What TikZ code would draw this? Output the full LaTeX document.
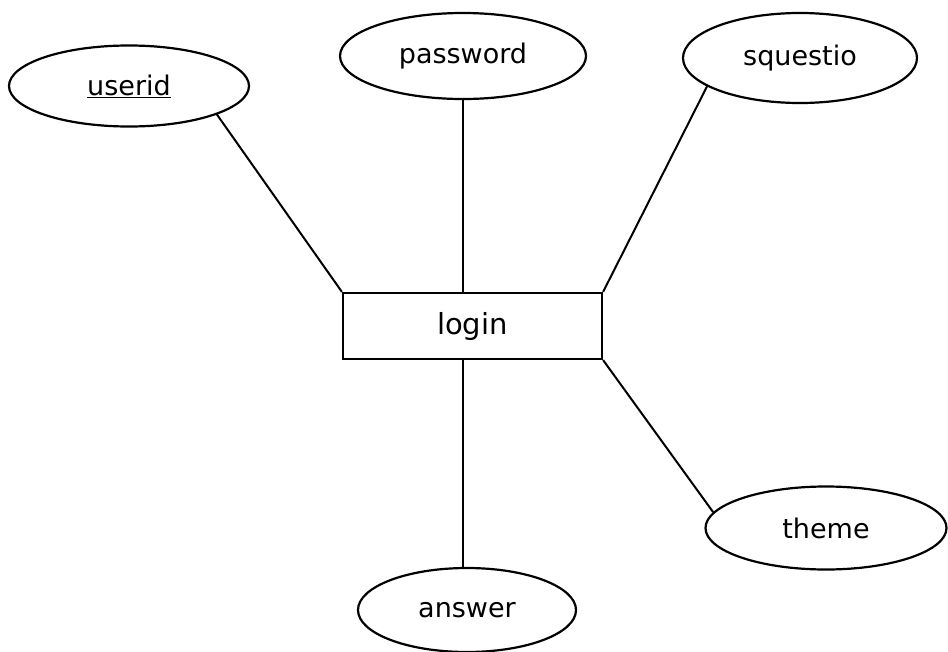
\documentclass[tikz,border=0pt]{standalone}
\usepackage{fontspec}
\setmainfont{DejaVu Sans}
\usetikzlibrary{shapes.geometric}
\begin{document}
\begin{tikzpicture}[x=1pt,y=-1pt,
  attr/.style={ellipse,draw,line width=2.2pt,inner sep=0pt,font=\fontsize{27}{30}\selectfont},
  ent/.style={rectangle,draw,line width=2.2pt,inner sep=0pt,minimum width=259pt,minimum height=66pt,font=\fontsize{29}{32}\selectfont},
  link/.style={line width=2pt}]
\useasboundingbox[fill=white] (0,0) rectangle (948,651);
\node[attr,minimum width=240pt,minimum height=81pt] (userid) at (129,86) {\underline{userid}};
\node[attr,minimum width=246pt,minimum height=86pt] (password) at (463,56) {password};
\node[attr,minimum width=234pt,minimum height=90pt] (squestio) at (800,58) {squestio};
\node[ent] (login) at (472.5,326) {login};
\node[attr,minimum width=241pt,minimum height=83pt] (theme) at (826,528) {theme};
\node[attr,minimum width=218pt,minimum height=84pt] (answer) at (467,610) {answer};
\draw[link] (userid.-18) -- (login.north west);
\draw[link] (password.south) -- (password.south |- login.north);
\draw[link] (squestio.197) -- (login.north east);
\draw[link] (login.south east) -- (theme.172);
\draw[link] (password.south |- login.south) -- (password.south |- answer.north);
\end{tikzpicture}
\end{document}
